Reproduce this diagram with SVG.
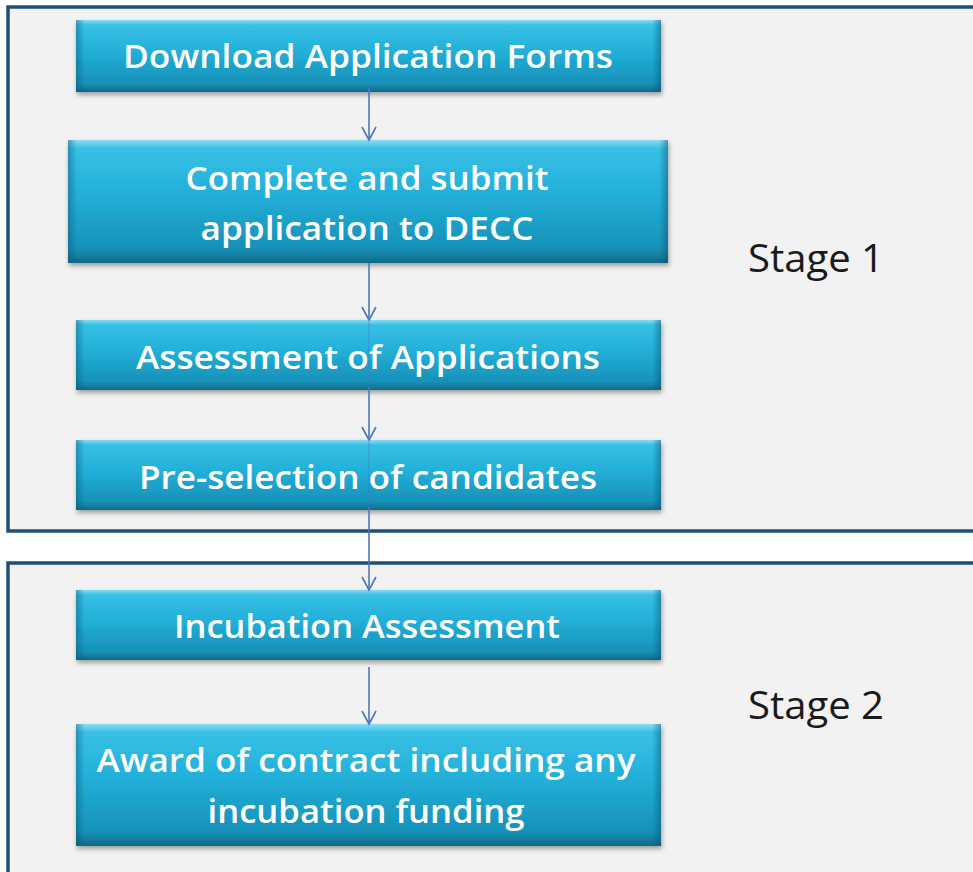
<svg xmlns="http://www.w3.org/2000/svg" width="973" height="872" viewBox="0 0 973 872">
<defs>
<linearGradient id="boxV" x1="0" y1="0" x2="0" y2="1">
<stop offset="0" stop-color="#8adcf2"/>
<stop offset="0.07" stop-color="#38c0e6"/>
<stop offset="0.45" stop-color="#22afd8"/>
<stop offset="0.88" stop-color="#1791b8"/>
<stop offset="1" stop-color="#0f6a88"/>
</linearGradient>
<linearGradient id="boxH" x1="0" y1="0" x2="1" y2="0">
<stop offset="0" stop-color="#0b5670" stop-opacity="0.45"/>
<stop offset="0.015" stop-color="#0b5670" stop-opacity="0"/>
<stop offset="0.985" stop-color="#0b5670" stop-opacity="0"/>
<stop offset="1" stop-color="#0b5670" stop-opacity="0.5"/>
</linearGradient>
<filter id="sh" x="-5%" y="-20%" width="110%" height="150%">
<feDropShadow dx="1" dy="3" stdDeviation="2.5" flood-color="#000" flood-opacity="0.35"/>
</filter>
<marker id="ah" markerWidth="20" markerHeight="20" refX="15" refY="10" orient="auto" markerUnits="userSpaceOnUse" viewBox="0 0 20 20">
<path d="M2,3 L15,10 L2,17" fill="none" stroke="#4a76c0" stroke-width="1.6"/>
</marker>
</defs>
<style>
.stage{fill:#f2f2f2;stroke:#1f4e79;stroke-width:3.5}
.box{fill:url(#boxV);filter:url(#sh)}
.edge{fill:url(#boxH)}
.t{font-family:"Open Sans","Liberation Sans",sans-serif;font-size:33px;font-weight:600;fill:#ffffff;text-anchor:middle}
.lbl{font-family:"Open Sans","Liberation Sans",sans-serif;font-size:38px;fill:#1a1a1a}
.c{stroke:#4a76c0;stroke-width:1.6;fill:none}
</style>
<rect width="973" height="872" fill="#ffffff"/>
<g id="stage1">
<rect class="stage" x="8" y="7" width="975" height="524"/>
<text class="lbl" x="748" y="272" textLength="136" lengthAdjust="spacingAndGlyphs">Stage 1</text>
</g>
<g id="stage2">
<rect class="stage" x="8" y="563" width="975" height="320"/>
<text class="lbl" x="748" y="719" textLength="136" lengthAdjust="spacingAndGlyphs">Stage 2</text>
</g>
<g id="n1">
<rect class="box" x="76" y="20" width="585" height="72"/>
<rect class="edge" x="76" y="20" width="585" height="72"/>
<text class="t" x="368" y="68" textLength="490" lengthAdjust="spacingAndGlyphs">Download Application Forms</text>
</g>
<g id="n2">
<rect class="box" x="68" y="140" width="600" height="123"/>
<rect class="edge" x="68" y="140" width="600" height="123"/>
<text class="t" x="367" y="190" textLength="363" lengthAdjust="spacingAndGlyphs">Complete and submit</text>
<text class="t" x="367" y="240" textLength="333" lengthAdjust="spacingAndGlyphs">application to DECC</text>
</g>
<g id="n3">
<rect class="box" x="76" y="320" width="585" height="70"/>
<rect class="edge" x="76" y="320" width="585" height="70"/>
<text class="t" x="368" y="369" textLength="464" lengthAdjust="spacingAndGlyphs">Assessment of Applications</text>
</g>
<g id="n4">
<rect class="box" x="76" y="440" width="585" height="70"/>
<rect class="edge" x="76" y="440" width="585" height="70"/>
<text class="t" x="368" y="489" textLength="458" lengthAdjust="spacingAndGlyphs">Pre-selection of candidates</text>
</g>
<g id="n5">
<rect class="box" x="76" y="590" width="585" height="70"/>
<rect class="edge" x="76" y="590" width="585" height="70"/>
<text class="t" x="367" y="638" textLength="386" lengthAdjust="spacingAndGlyphs">Incubation Assessment</text>
</g>
<g id="n6">
<rect class="box" x="76" y="724" width="585" height="122"/>
<rect class="edge" x="76" y="724" width="585" height="122"/>
<text class="t" x="366" y="772" textLength="539" lengthAdjust="spacingAndGlyphs">Award of contract including any</text>
<text class="t" x="366" y="823" textLength="317" lengthAdjust="spacingAndGlyphs">incubation funding</text>
</g>
<g id="connectors">
<line class="c" x1="369" y1="88" x2="369" y2="140" marker-end="url(#ah)"/>
<line class="c" x1="369" y1="263" x2="369" y2="320" marker-end="url(#ah)"/>
<line class="c" x1="369" y1="387" x2="369" y2="440" marker-end="url(#ah)"/>
<line class="c" x1="369" y1="507" x2="369" y2="590" marker-end="url(#ah)"/>
<line class="c" x1="369" y1="667" x2="369" y2="724" marker-end="url(#ah)"/>
<line class="c" x1="369" y1="322" x2="369" y2="390" stroke-opacity="0.35"/>
<line class="c" x1="369" y1="442" x2="369" y2="510" stroke-opacity="0.35"/>
</g>
</svg>
